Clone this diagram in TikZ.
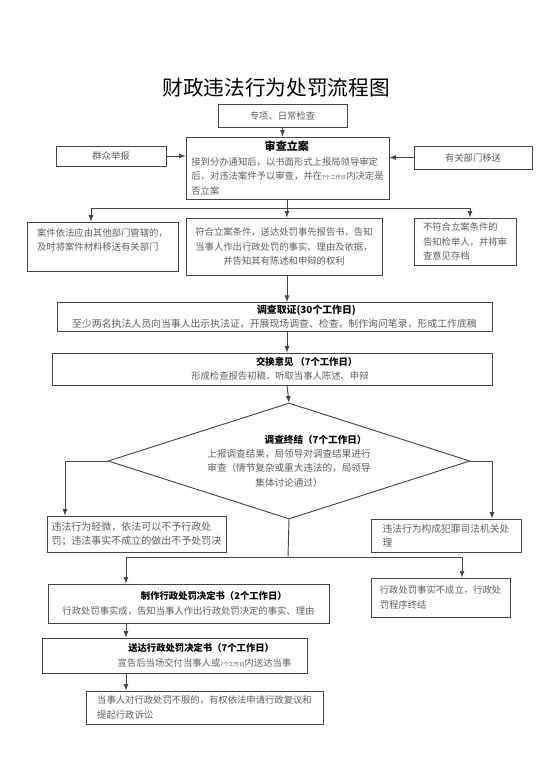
\documentclass[tikz,border=0pt]{standalone}
\usepackage{fontspec}
\setmainfont{Noto Sans CJK SC}
\usepackage{tikz}
\definecolor{mylinegray}{RGB}{70,70,70}
\definecolor{mytextgray}{RGB}{95,95,95}
\usetikzlibrary{arrows,positioning,calc,shapes.geometric}
\tikzset{>=latex}
\newcommand{\headtxt}[1]{\textcolor{black}{\bfseries #1}}
\newcommand{\smalldays}{{\fontsize{4}{5}\selectfont 7个工作日}}

\begin{document}
\begin{tikzpicture}[x=0.75pt, y=-0.75pt, sz/.style 2 args={minimum width=#1*0.75pt, minimum height=#2*0.75pt}, box/.style = {draw=mylinegray, line width=0.7pt, inner sep=2pt, text=mytextgray, font=\fontsize{7}{10.8}\selectfont}, dia/.style = {draw=mylinegray, line width=0.7pt, diamond, aspect=3.1, inner sep=0pt, text=mytextgray, font=\fontsize{7.2}{10.8}\selectfont}, conn/.style = {draw=mylinegray, line width=0.7pt}]
                    \fill[white] (0,0) rectangle (554,783);
                    \useasboundingbox (0,0) rectangle (554,783);
                    \coordinate (col) at (287,0);
                    \node[font=\fontsize{15.5}{18}\selectfont] (title) at (276,88) {财政违法行为处罚流程图};
                    \node[box, sz={129}{23}] (check) at (282.5,115.5) {专项、日常检查};
                    \node[box, sz={110}{20}] (qunzhong) at (111,156) {群众举报};
                    \node[box, sz={118}{23}] (yiguan) at (473,157.5) {有关部门移送};
                    \node[box, sz={203}{62}, align=left] (lian) at (287.5,168) {\hspace*{55pt}\headtxt{\fontsize{8.3}{10.8}\selectfont 审查立案}\\接到分办通知后，以书面形式上报局领导审定\\后，对违法案件予以审查，并在\smalldays 内决定是\\否立案};
                    \node[box, sz={151}{49}, align=left] (left1) at (102.5,246.5) {案件依法应由其他部门管辖的，\\及时将案件材料移送有关部门\\~};
                    \node[box, sz={196}{57}, align=center] (mid1) at (284,246.5) {符合立案条件，送达处罚事先报告书，告知\\当事人作出行政处罚的事实、理由及依据，\\并告知其有陈述和申辩的权利};
                    \node[box, sz={102}{47}, align=left] (right1) at (465,241.5) {不符合立案条件的\\告知检举人，并将审\\查意见存档};
                    \node[box, sz={435}{28}, align=center, font=\fontsize{7.4}{10.8}\selectfont] (quzheng) at (274.5,317) {\hspace*{48pt}\headtxt{调查取证(30个工作日)}\\至少两名执法人员向当事人出示执法证，开展现场调查、检查，制作询问笔录，形成工作底稿};
                    \node[box, sz={440}{32}, align=center] (jiaohuan) at (272,369) {\hspace*{52pt}\headtxt{交换意见 （7个工作日）}\\\hspace*{12pt}形成检查报告初稿，听取当事人陈述、申辩};
                    \node[dia, sz={362}{116}, align=center] (dec) at (289,461) {\hspace*{40pt}\headtxt{调查终结（7个工作日）}\\上报调查结果，局领导对调查结果进行\\审查（情节复杂或重大违法的，局领导\\集体讨论通过）};
                    \node[box, sz={179}{36}, align=left, font=\fontsize{7.5}{11}\selectfont] (left2) at (136.5,534) {违法行为轻微，依法可以不予行政处\\罚；违法事实不成立的做出不予处罚决};
                    \node[box, sz={150}{33}, align=left, font=\fontsize{7.3}{10.8}\selectfont] (right2) at (446,535.5) {违法行为构成犯罪司法机关处\\理};
                    \node[box, sz={281}{39}, align=center] (zhizuo) at (188.5,603.5) {\hspace*{38pt}\headtxt{制作行政处罚决定书（2个工作日）}\\行政处罚事实成，告知当事人作出行政处罚决定的事实、理由};
                    \node[box, sz={139}{39}, align=left] (buchengli) at (440.5,597.5) {行政处罚事实不成立，行政处\\罚程序终结};
                    \node[box, sz={265}{35}, align=center] (songda) at (174.5,655.5) {\hspace*{40pt}\headtxt{送达行政处罚决定书（7个工作日）}\\\hspace*{45pt}宣告后当场交付当事人或\smalldays 内送达当事};
                    \node[box, sz={237}{33}, align=left] (final) at (204.5,707.5) {当事人对行政处罚不服的，有权依法申请行政复议和\\提起行政诉讼};
                    \coordinate (split1) at (287,208);
                    \coordinate (s1l) at (91,208);
                    \coordinate (s1r) at (470,208);
                    \coordinate (l2x) at (65,0);
                    \coordinate (r2x) at (492,0);
                    \coordinate (split2) at (288,557);
                    \coordinate (c3) at (126,0);
                    \coordinate (r3) at (462,0);
                    \draw[conn,->] (check.south) -- (check.south |- lian.north);
                    \draw[conn,->] (qunzhong.east) -- (qunzhong.east -| lian.west);
                    \draw[conn,->] (yiguan.west) -- (yiguan.west -| lian.east);
                    \draw[conn] (col |- lian.south) -- (split1);
                    \draw[conn,->] (split1) -| (s1l |- left1.north);
                    \draw[conn,->] (split1) -| (s1r |- right1.north);
                    \draw[conn,->] (split1) -- (col |- mid1.north);
                    \draw[conn,->] (col |- mid1.south) -- (col |- quzheng.north);
                    \draw[conn,->] (col |- quzheng.south) -- (col |- jiaohuan.north);
                    \draw[conn,->] (col |- jiaohuan.south) -- (dec.north);
                    \draw[conn,->] (dec.west) -| (l2x |- left2.north);
                    \draw[conn,->] (dec.east) -| (r2x |- right2.north);
                    \draw[conn] (dec.south) -- (split2);
                    \draw[conn,->] (split2) -| (c3 |- zhizuo.north);
                    \draw[conn,->] (split2) -| (r3 |- buchengli.north);
                    \draw[conn,->] (c3 |- zhizuo.south) -- (c3 |- songda.north);
                    \draw[conn,->] (c3 |- songda.south) -- (c3 |- final.north);
            \end{tikzpicture}
\end{document}
